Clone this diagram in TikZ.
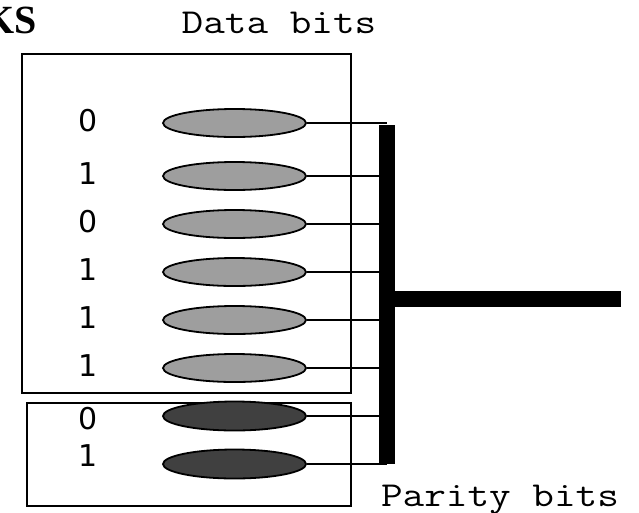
\documentclass[tikz,border=0pt]{standalone}
\usepackage{fontspec}
\usepackage{graphicx}
\usetikzlibrary{shapes.geometric}
\newfontfamily\digitfont{DejaVu Sans}
\newfontfamily\headfont{Liberation Serif}
\newcommand{\widetype}[1]{\scalebox{1.2}[1]{#1}}
\begin{document}
\begin{tikzpicture}[x=1pt,y=-1pt,
  box/.style={draw=black,line width=1.8pt},
  databit/.style={ellipse,draw=black,line width=1.8pt,fill=black!38,
    minimum width=143pt,minimum height=28pt,inner sep=0pt},
  paritybit/.style={databit,fill=black!75,minimum height=29pt},
  digit/.style={font=\digitfont\fontsize{30}{36}\selectfont,inner sep=0pt},
  caption/.style={font=\ttfamily\fontsize{35}{40}\selectfont,
    anchor=base,inner sep=0pt},
  wire/.style={draw=black,line width=1.4pt},
  bus/.style={draw=black,line width=16pt}]
\useasboundingbox (0,0) rectangle (639,512);

% headings
\node[anchor=base east,inner sep=0pt,font=\headfont\bfseries\fontsize{40}{48}\selectfont] (ks) at (37,33) {KS};
\node[caption] (datalbl) at (279,33) {\widetype{Data bits}};
\node[caption] (paritylbl) at (500,506) {\widetype{Parity bits}};

% enclosing boxes
\draw[box] (22,54) rectangle (351,393);
\draw[box] (27,403) rectangle (351,506);

% bit cells and their values
\foreach \i/\y/\v in {1/123/0,2/176/1,3/224/0,4/272/1,5/320/1,6/368/1}{
  \node[databit] (d\i) at (234.5,\y) {};
  \node[digit] (v\i) at (88,\y-2) {\v};
}
\node[paritybit] (p1) at (234.5,416) {};
\node[paritybit] (p2) at (234.5,464) {};
\node[digit] (w1) at (88,419) {0};
\node[digit] (w2) at (88,456) {1};

% bus
\coordinate (bustop) at (387,125);
\coordinate (busbot) at (387,464);
\coordinate (busmid) at (387,299);
\coordinate (busout) at (621,299);

% wires from each cell to the bus
\foreach \n in {d1,d2,d3,d4,d5,d6,p1,p2}{
  \draw[wire] (\n.east) -- (\n.east -| bustop);
}

\draw[bus] (bustop) -- (busbot);
\draw[bus] ([xshift=-8pt]busmid) -- (busout);
\end{tikzpicture}
\end{document}
